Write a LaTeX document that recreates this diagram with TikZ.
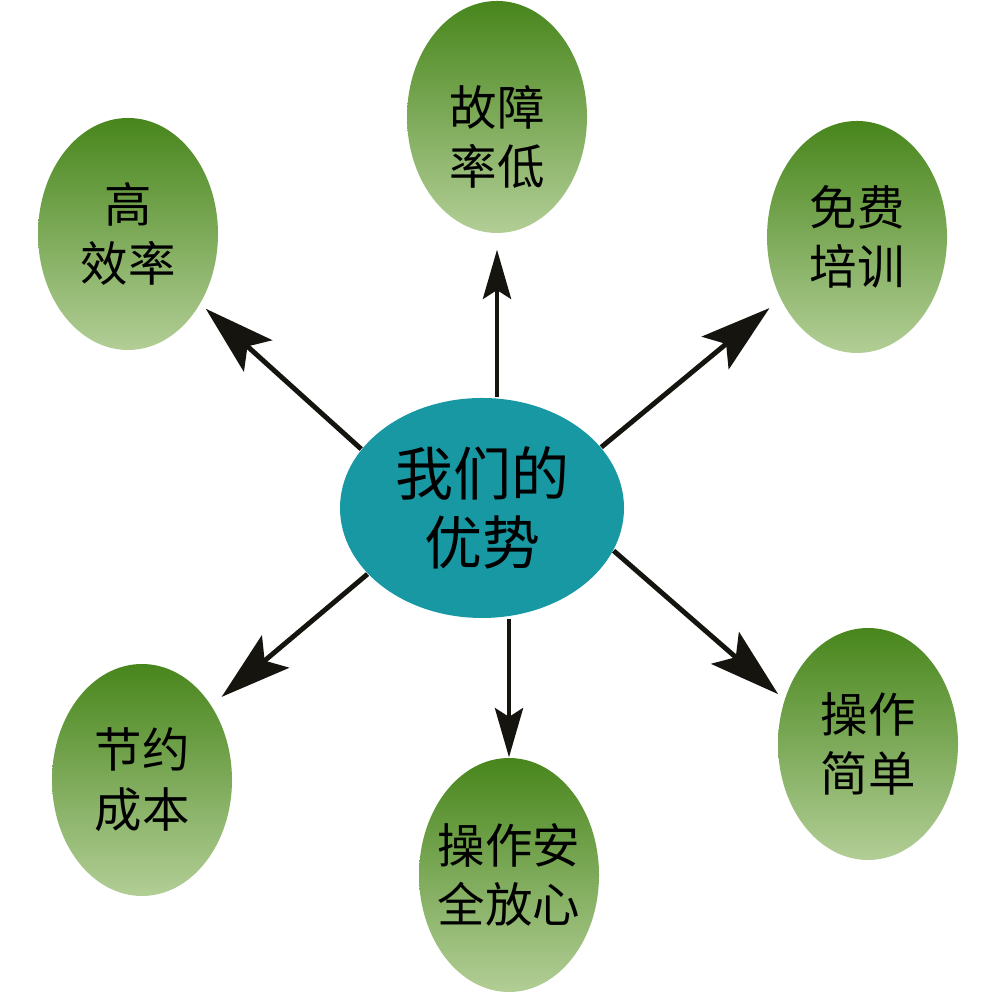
\documentclass[tikz,border=0pt]{standalone}
\usepackage{fontspec}
\usepackage{tikz}
\usetikzlibrary{shapes.geometric,arrows.meta}
\usepackage{xcolor}
\newfontfamily\cjk{Noto Sans CJK SC}
\definecolor{advteal}{RGB}{24,152,162}
\definecolor{advdeep}{RGB}{72,134,28}
\definecolor{advmid}{RGB}{104,156,62}
\definecolor{advpale}{RGB}{178,206,150}
\definecolor{advink}{RGB}{22,20,14}

\begin{document}
\begin{tikzpicture}[
  hub/.style={ellipse,fill=advteal,minimum width=2.84cm,minimum height=2.2cm,inner sep=0pt,align=center,
    font=\cjk\fontsize{16.5}{19.6}\selectfont},
  leaf/.style={ellipse,top color=advdeep,middle color=advmid,bottom color=advpale,minimum width=1.8cm,
    minimum height=2.32cm,inner sep=0pt,align=center,font=\cjk\fontsize{13.5}{17}\selectfont},
  spoke/.style={advink,line width=1.2pt,-{Stealth[length=14pt,width=8pt,inset=2.5pt]}},
  spokebig/.style={advink,line width=1.4pt,-{Stealth[length=20pt,width=12pt,inset=4pt]}}]
\useasboundingbox (0,0) rectangle (10,10);

% ================= CENTRE =================
\node[hub] (hub) at (4.82,4.92) {我们的\\优势};

% ================= OUTER RING =================
\node[leaf] (fault) at (4.97,8.83) {\rule{0pt}{8mm}故障\\率低};
\node[leaf] (eff) at (1.28,7.66) {高\\效率};
\node[leaf] (train) at (8.57,7.63) {免费\\培训};
\node[leaf] (cost) at (1.42,2.20) {节约\\成本};
\node[leaf,minimum height=2.34cm,inner xsep=-3mm] (safe) at (5.09,1.25) {操作安\\全放心};
\node[leaf] (easy) at (8.68,2.56) {操作\\简单};

% ================= SPOKES =================
\draw[spoke,shorten >=1.6mm] (fault.south |- hub.north) -- (fault.south);
\draw[spoke] (safe.north |- hub.south) -- (safe.north);
\draw[spokebig,shorten >=0.7mm] (hub.154) -- (eff.-44);
\draw[spokebig,shorten >=1.4mm] (hub.27) -- (train.219);
\draw[spokebig,shorten >=1.3mm] (hub.210) -- (cost.47);
\draw[spokebig,shorten >=0.8mm] (hub.-18) -- (easy.152);
\end{tikzpicture}
\end{document}
